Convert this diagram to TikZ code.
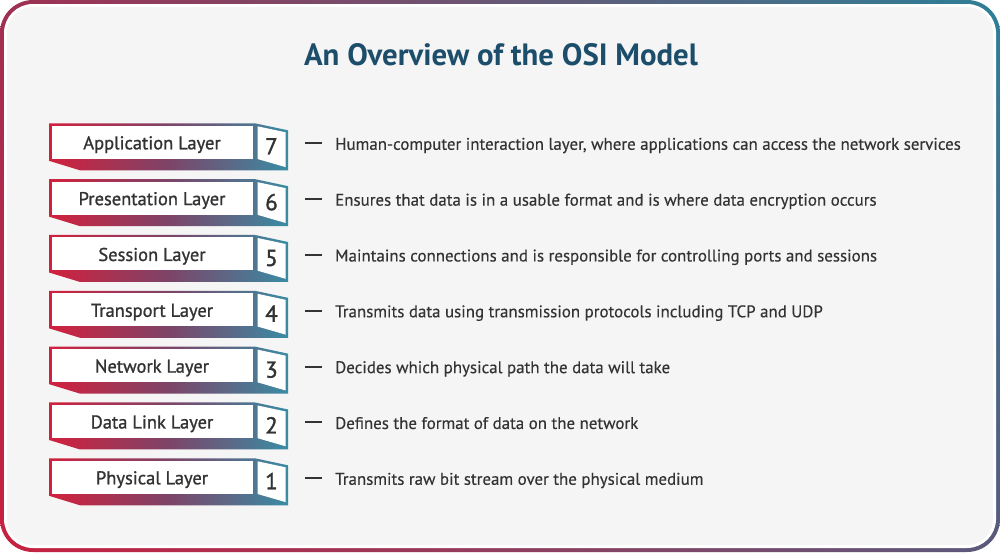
\documentclass[tikz,border=0pt]{standalone}
\usepackage{fontspec}
\setmainfont{PT Sans}
\newfontfamily\descfont[FakeBold=0.3]{PT Sans}
\newfontfamily\labfont[FakeBold=1.1]{PT Sans}
\newfontfamily\numfont[FakeBold=1.6]{PT Sans}
\newfontfamily\titfont{PT Sans}
\usetikzlibrary{shadings}
\definecolor{lred}{HTML}{D2203C}
\definecolor{lmid}{HTML}{7D4468}
\definecolor{lteal}{HTML}{3A8CA4}
\definecolor{bgc}{HTML}{F5F5F5}
\definecolor{titc}{HTML}{1C4E6C}
\definecolor{txt}{HTML}{333333}
\definecolor{bTL}{HTML}{A03052}
\definecolor{bTR}{HTML}{2E7F98}
\definecolor{bBL}{HTML}{C82040}
\definecolor{bBR}{HTML}{5A5A7C}
\begin{document}
\begin{tikzpicture}[x=1pt,y=-1pt,
  layershade/.style={left color=lred,right color=lteal,middle color=lmid},
  labtext/.style={anchor=base,inner sep=0pt,text=txt,font=\labfont\fontsize{18.5}{22}\selectfont},
  numtext/.style={anchor=base,inner sep=0pt,text=txt,font=\numfont\fontsize{23}{26}\selectfont},
  desctext/.style={anchor=base west,inner sep=0pt,text=txt,font=\descfont\fontsize{16.9}{20}\selectfont},
  dashline/.style={draw=txt,line width=2pt},
  title/.style={anchor=base,inner sep=0pt,text=titc,font=\titfont\bfseries\fontsize{30.8}{34}\selectfont}]
\useasboundingbox (0,0) rectangle (1000,552);
% frame
\shade[upper left=bTL,upper right=bTR,lower left=bBL,lower right=bBR,rounded corners=33] (0,0) rectangle (1000,552);
\fill[white,rounded corners=29] (4,4) rectangle (996,548);
\fill[bgc,rounded corners=26] (7,7) rectangle (993,545);
% title
\node[title] (title) at (501,65) {An Overview of the OSI Model};
% layers
\foreach \i/\name/\num/\desc in {
  0/Application Layer/7/{Human-computer interaction layer, where applications can access the network services},
  1/Presentation Layer/6/{Ensures that data is in a usable format and is where data encryption occurs},
  2/Session Layer/5/{Maintains connections and is responsible for controlling ports and sessions},
  3/Transport Layer/4/{Transmits data using transmission protocols including TCP and UDP},
  4/Network Layer/3/{Decides which physical path the data will take},
  5/Data Link Layer/2/{Defines the format of data on the network},
  6/Physical Layer/1/{Transmits raw bit stream over the physical medium}}{
  \pgfmathsetmacro\T{123.3+55.83*\i}
  \shade[layershade] (49,\T) -- (255,\T) -- (288,\T+7) -- (288,\T+47) -- (80,\T+47) -- (49,\T+37.5) -- cycle;
  \fill[white] (51.5,\T+2.5) rectangle (253,\T+35.5);
  \fill[white] (257.5,\T+3) -- (285.5,\T+9) -- (285.5,\T+43.8) -- (257.5,\T+35.7) -- cycle;
  \node[labtext] (lab\num) at (152,\T+26) {\name};
  \node[numtext] (num\num) at (271.5,\T+31) {\num};
  \node[desctext] (desc\num) at (335,\T+26.5) {\desc};
  \coordinate (ds\num) at (305,\T+20);
  \coordinate (de\num) at (322,\T+20);
  \draw[dashline] (ds\num) -- (de\num);
}
\end{tikzpicture}
\end{document}
